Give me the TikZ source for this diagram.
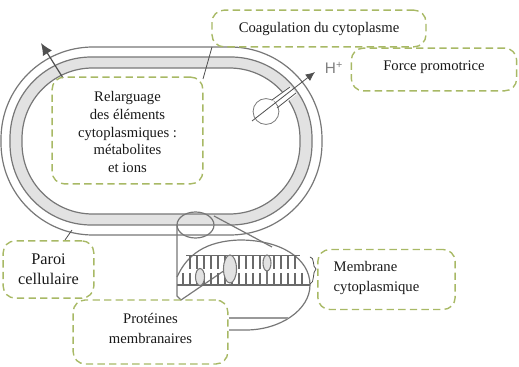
\documentclass[tikz,border=0pt]{standalone}
\usepackage{fontspec}
\usetikzlibrary{arrows.meta,shapes.geometric}
\setmainfont{Liberation Serif}
\newfontfamily\labelsans{Liberation Sans}
\definecolor{boxgreen}{HTML}{A8B965}
\definecolor{wallgray}{HTML}{E2E2E2}
\definecolor{linegray}{HTML}{777777}
\definecolor{darkline}{HTML}{505050}
\definecolor{lipid}{HTML}{6A6A6A}
\tikzset{
  callout/.style={draw=boxgreen,line width=1.05pt,dash pattern=on 5.5pt off 3.2pt,rounded corners=9pt,align=center,text=black!90,font=\fontsize{11pt}{13.2pt}\selectfont},
  calltext/.style={align=center,text=black!90,inner sep=0pt,font=\fontsize{11pt}{15pt}\selectfont},
  wall/.style={draw=linegray,line width=.9pt},
  thinline/.style={draw=darkline,line width=.6pt}
}
\begin{document}
\begin{tikzpicture}[x=.75pt,y=-.75pt]
\useasboundingbox (0,0) rectangle (519,367);
% cell envelope: outer wall, shaded layer, inner edge
\draw[wall,rounded corners=69pt] (1,47) rectangle (322,235);
\draw[wall,fill=wallgray,rounded corners=61pt] (10,57) rectangle (312,225);
\draw[wall,fill=white,rounded corners=53pt] (22,68) rectangle (300,214);
% proton channel: pore crossing the shaded layer and its vesicle
\fill[white] (272,100) -- (290,86) -- (297,94) -- (277,110) -- cycle;
\draw[thinline,draw=linegray] (266,111.5) circle (9.7pt);
\fill[white] (268,104) -- (273,100) -- (278,109) -- (274,112) -- cycle;
\draw[thinline] (272,100) -- (290,87);
\draw[thinline] (277,108) -- (296,93);
\coordinate (hstart) at (252,121);
\coordinate (htip) at (315,72);
\draw[thinline,-{Latex[length=7pt,width=6pt]}] (hstart) -- (htip);
\node[font=\labelsans\fontsize{11.5pt}{11.5pt}\selectfont,text=black!50,inner sep=0pt] (hplus) at (334,68) {H\textsuperscript{+}};
% release arrow through the envelope
\coordinate (rstart) at (63,78);
\coordinate (rtip) at (41,43);
\draw[darkline,line width=.9pt,-{Latex[length=9pt,width=8pt]}] (rstart) -- (rtip);
% line from the coagulation box
\coordinate (ca) at (212,47);
\coordinate (cb) at (203,79);
\draw[thinline] (ca) -- (cb);
% pointer above the wall label
\coordinate (pa) at (72,230);
\coordinate (pb) at (65,240);
\draw[thinline] (pa) -- (pb);
% magnifying lens and its projection
\node[draw=linegray,line width=.9pt,ellipse,minimum width=27.75pt,minimum height=19.5pt,inner sep=0pt] (lens) at (195.5,225) {};
\draw[wall] (177,225) -- (177,296) -- (181,300) -- (228,268);
\draw[wall] (214,216) -- (272,247);
\draw[wall] (177,277) .. controls (187,255) and (205,241) .. (240,240) .. controls (280,240) and (310,258) .. (310,285) .. controls (310,310) and (280,330) .. (246,330) -- (229,330);
\draw[draw=black!40,line width=1.1pt] (229,318) -- (288,318);
% membrane bilayer
\foreach \x in {190,197,...,298} {
  \draw[lipid,line width=1.2pt] (\x,256) -- (\x,269);
}
\foreach \x in {183,190,...,305} {
  \draw[lipid,line width=1.2pt] (\x,273) -- (\x,285);
  \draw[lipid,line width=2.2pt] (\x,279) -- (\x,285);
}
\draw[lipid,line width=1.1pt] (186,255.5) -- (300,255.5);
\draw[lipid,line width=1.1pt] (177,285) -- (310,285);
\draw[linegray,line width=.8pt,fill=wallgray] (230,269) ellipse (6.5 and 14);
\draw[linegray,line width=.8pt,fill=wallgray] (200,277) ellipse (4.5 and 8.5);
\draw[linegray,line width=.8pt,fill=wallgray] (267,263) ellipse (4 and 8);
\draw[linegray,line width=.8pt] (267,271) -- (267,285);
\draw[thinline] (310,257) .. controls (315,257) and (312,267) .. (316,269) .. controls (312,272) and (315,283) .. (310,284);
% callouts
\node[callout,minimum width=160.5pt,minimum height=27.5pt] (coag) at (319,28.5) {Coagulation du cytoplasme};
\node[callout,minimum width=124pt,minimum height=32pt] (force) at (434,69.5) {};
\node[calltext] (forcetext) at ([yshift=2pt]force.center) {Force promotrice};
\node[callout,minimum width=113pt,minimum height=80pt] (relar) at (127.5,130.5) {};
\node[calltext,font=\fontsize{11pt}{13.2pt}\selectfont] (relartext) at ([yshift=-1.2pt]relar.center) {Relarguage\\des éléments\\cytoplasmiques :\\métabolites\\et ions};
\node[callout,font=\fontsize{12.2pt}{15pt}\selectfont,minimum width=68pt,minimum height=43pt] (paroi) at (48.5,269.5) {Paroi\\cellulaire};
\node[callout,minimum width=116pt,minimum height=48pt] (prot) at (150.5,332) {};
\node[calltext] (prottext) at ([yshift=2.4pt]prot.center) {Protéines\\membranaires};
\node[callout,minimum width=103pt,minimum height=45pt] (memb) at (386.5,279.5) {};
\node[calltext,align=left] (membtext) at ([xshift=-7.5pt,yshift=1pt]memb.center) {Membrane\\cytoplasmique};
\end{tikzpicture}
\end{document}
